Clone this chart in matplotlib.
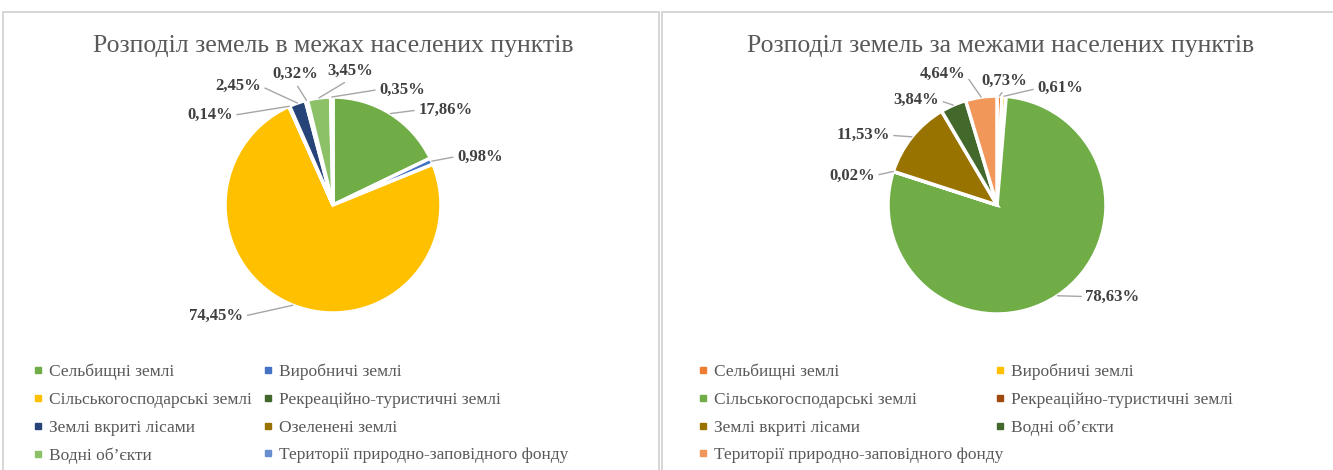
import numpy as np
import matplotlib.pyplot as plt
from matplotlib.patches import Rectangle
from matplotlib.lines import Line2D

# --- data ---
left_title = 'Розподіл земель в межах населених пунктів'
left_labels = ['Сельбищні землі', 'Виробничі землі', 'Сільськогосподарські землі',
               'Рекреаційно-туристичні землі', 'Землі вкриті лісами', 'Озеленені землі',
               'Водні об’єкти', 'Території природно-заповідного фонду']
left_values = [17.86, 0.98, 74.45, 0.14, 2.45, 0.32, 3.45, 0.35]
left_colors = ['#70AD47', '#4472C4', '#FFC000', '#43682B', '#264478', '#997300',
               '#8CC168', '#698ED0']

right_title = 'Розподіл земель за межами населених пунктів'
right_labels = ['Сельбищні землі', 'Виробничі землі', 'Сільськогосподарські землі',
                'Рекреаційно-туристичні землі', 'Землі вкриті лісами', 'Водні об’єкти',
                'Території природно-заповідного фонду']
right_values = [0.73, 0.61, 78.63, 0.02, 11.53, 3.84, 4.64]
right_colors = ['#ED7D31', '#FFC000', '#70AD47', '#9E480E', '#997300', '#43682B',
                '#F1975A']

# label positions (in pie radius units), layout only
left_label_pos = [(1.04, 0.88), (1.36, 0.45), (-1.08, -1.03), (-1.14, 0.83),
                  (-0.88, 1.10), (-0.35, 1.21), (0.16, 1.24), (0.64, 1.07)]
right_label_pos = [(0.07, 1.14), (0.58, 1.07), (1.06, -0.84), (-1.33, 0.27),
                   (-1.23, 0.64), (-0.74, 0.96), (-0.50, 1.20)]

W, H = 1333, 470
fig = plt.figure(figsize=(W / 100, H / 100), dpi=100)
serif = 'Liberation Serif'


def px(x, y):
    return x / W, 1 - y / H


# panel borders
for x0, x1 in [(3, 659), (662, 1340)]:
    fig.patches.append(Rectangle(px(x0, 480), (x1 - x0) / W, 468 / H,
                                 transform=fig.transFigure, fill=False,
                                 edgecolor='#D0D0D0', lw=1.2))


def draw_pie(cx, cy, r, values, colors, labels, label_pos, title, tx, leg_x):
    fx, fy = px(cx - r, cy + r)
    ax = fig.add_axes([fx, fy, 2 * r / W, 2 * r / H])
    wedges, _ = ax.pie(values, colors=colors, startangle=90, counterclock=False,
                       radius=1, wedgeprops=dict(edgecolor='white', linewidth=2.5))
    ax.set_xlim(-1, 1)
    ax.set_ylim(-1, 1)
    ax.axis('off')
    for w, v, (lx, ly) in zip(wedges, values, label_pos):
        mid = np.deg2rad((w.theta1 + w.theta2) / 2)
        ex, ey = np.cos(mid), np.sin(mid)
        if abs(lx - ex) < 0.3:
            rel = (0.5, 0.0)
        elif lx > ex:
            rel = (0.0, 0.5)
        else:
            rel = (1.0, 0.5)
        ax.annotate(f'{v:.2f}%'.replace('.', ','), xy=(ex, ey), xytext=(lx, ly),
                    ha='center', va='center', fontsize=12, fontweight='bold',
                    family=serif, color='#404040', annotation_clip=False,
                    arrowprops=dict(arrowstyle='-', color='#A6A6A6', lw=1,
                                    shrinkA=1, shrinkB=0, relpos=rel))
    fig.text(*px(tx, 46), title, ha='center', va='center', fontsize=18.5,
             family=serif, color='#595959')
    handles = [Line2D([], [], marker='s', ls='none', color=c, markersize=4.5)
               for c in colors]
    for col, lx0 in enumerate(leg_x):
        idx = list(range(col, len(values), 2))
        leg = fig.legend([handles[i] for i in idx], [labels[i] for i in idx],
                         loc='upper left', bbox_to_anchor=px(lx0, 364),
                         frameon=False, borderpad=0, borderaxespad=0,
                         handlelength=0.5, handletextpad=0.35, labelspacing=0.66,
                         prop=dict(family=serif, size=12.5))
        for t in leg.get_texts():
            t.set_color('#595959')


draw_pie(333, 205, 108, left_values, left_colors, left_labels, left_label_pos,
         left_title, 333, [34, 264])
draw_pie(997, 205, 109, right_values, right_colors, right_labels, right_label_pos,
         right_title, 1001, [699, 996])

fig.savefig('out.png', dpi=100, facecolor='white')
